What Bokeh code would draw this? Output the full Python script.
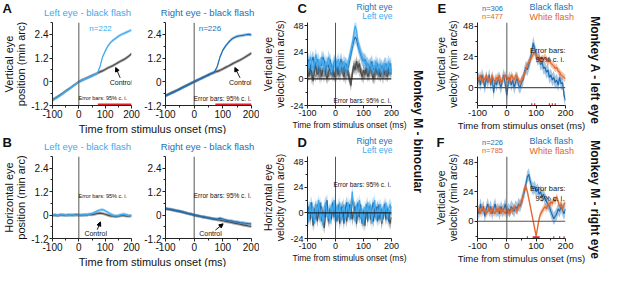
import math
from bokeh.plotting import figure
from bokeh.models import Range1d, FixedTicker, Label, Arrow, NormalHead, Span, CustomJSTickFormatter
from bokeh.layouts import row, column
from bokeh.embed import file_html
from bokeh.resources import INLINE

FONT = "Liberation Sans"
LIGHT = "#41aaee"
DARK = "#1d6fb5"
ORANGE = "#e3662b"
GRAY = "#4d4d4d"
GRAY2 = "#8c8c8c"
RED = "#e0202a"

# ---------------- data ----------------
t10 = list(range(-100, 201, 10))
t5 = list(range(-100, 201, 5))

# A: vertical eye position (min arc)
a_left_eye = [-0.95, -0.86, -0.78, -0.69, -0.59, -0.49, -0.40, -0.30, -0.20, -0.10, 0.0,
              0.06, 0.12, 0.18, 0.24, 0.30, 0.36, 0.42, 0.75, 1.25, 1.55, 1.80, 1.98, 2.10,
              2.20, 2.30, 2.38, 2.44, 2.50, 2.56, 2.62]
a_left_ctrl = [-0.90, -0.83, -0.75, -0.66, -0.57, -0.47, -0.38, -0.29, -0.19, -0.10, 0.0,
               0.07, 0.13, 0.19, 0.25, 0.31, 0.37, 0.43, 0.50, 0.55, 0.62, 0.70, 0.76, 0.82,
               0.90, 0.98, 1.05, 1.12, 1.20, 1.30, 1.42]
a_right_eye = [-0.72, -0.65, -0.58, -0.51, -0.44, -0.37, -0.29, -0.22, -0.15, -0.07, 0.0,
               0.07, 0.14, 0.21, 0.28, 0.35, 0.42, 0.48, 0.75, 1.25, 1.60, 1.82, 2.00, 2.15,
               2.24, 2.30, 2.33, 2.35, 2.38, 2.40, 2.37]
a_right_ctrl = [-0.70, -0.63, -0.56, -0.50, -0.43, -0.36, -0.28, -0.21, -0.14, -0.07, 0.0,
                0.07, 0.14, 0.21, 0.28, 0.35, 0.42, 0.48, 0.53, 0.58, 0.65, 0.73, 0.80, 0.88,
                0.96, 1.03, 1.10, 1.18, 1.27, 1.36, 1.45]
a_ci = 0.08
a_left_sig = [72, 200]
a_right_sig = [74, 200]

# B: horizontal eye position (min arc)
b_left_eye = [0.0, 0.02, -0.02, 0.01, 0.03, 0.0, -0.02, 0.02, 0.01, -0.01, 0.0,
              0.02, 0.0, 0.03, 0.05, 0.08, 0.14, 0.20, 0.26, 0.28, 0.22, 0.14, 0.06, 0.0,
              -0.04, -0.02, 0.02, 0.05, 0.02, -0.02, -0.04]
b_left_ctrl = [-0.02, 0.0, -0.03, 0.01, 0.0, -0.02, 0.01, -0.01, 0.0, 0.02, 0.0,
               -0.02, 0.01, 0.0, 0.03, 0.02, 0.05, 0.08, 0.10, 0.08, 0.04, 0.0, -0.04, -0.06,
               -0.08, -0.06, -0.03, -0.02, -0.05, -0.06, -0.03]
b_right_eye = [0.35, 0.31, 0.30, 0.26, 0.23, 0.20, 0.16, 0.12, 0.08, 0.05, 0.0,
               -0.03, -0.06, -0.09, -0.12, -0.14, -0.17, -0.19, -0.20, -0.16, -0.20, -0.25,
               -0.28, -0.30, -0.33, -0.35, -0.38, -0.40, -0.42, -0.44, -0.45]
b_right_ctrl = [0.32, 0.30, 0.27, 0.24, 0.21, 0.18, 0.15, 0.11, 0.07, 0.04, 0.0,
                -0.03, -0.06, -0.09, -0.12, -0.15, -0.18, -0.21, -0.24, -0.26, -0.29, -0.32,
                -0.35, -0.38, -0.41, -0.44, -0.47, -0.50, -0.53, -0.56, -0.58]
b_ci = 0.08

# C: vertical eye velocity, binocular (min arc/s)
c_left = [18, 10, 20, 14, 8, 16, 22, 12, 18, 10,
          20, 14, 8, 16, 12, 20, 14, 6, 12, 16,
          10, 14, 18, 8, 14, 10, 16, 12, 8, 14,
          20, 26, 32, 40, 48, 44, 34, 28, 24, 20,
          18, 14, 16, 10, 12, 14, 8, 12, 10, 16,
          8, 12, 14, 6, 10, 14, 8, 12, 16, 6, 14]
c_right = [12, 18, 8, 16, 20, 10, 14, 18, 8, 14,
           12, 20, 16, 8, 14, 10, 18, 12, 6, 14,
           18, 10, 8, 14, 18, 12, 8, 14, 12, 10,
           16, 22, 28, 34, 38, 36, 30, 26, 22, 18,
           16, 18, 12, 14, 10, 12, 16, 8, 12, 10,
           14, 6, 10, 12, 8, 12, 14, 6, 10, 14, 8]
c_ctrl1 = [8, 2, 10, 6, -2, 8, 12, 4, 6, 10,
           2, 8, 12, 4, 0, 6, 10, 4, 8, 2,
           6, 10, 4, 8, 12, 6, 2, 8, 10, 4,
           0, -6, 4, 12, 8, 16, 10, 14, 6, 2,
           8, 4, 10, 2, 6, 12, 4, 0, 6, 10,
           4, 8, 2, 6, 10, 4, 8, 2, 6, 10, 4]
c_ctrl2 = [4, 10, 6, 0, 8, 4, 2, 10, 6, 0,
           8, 4, 2, 10, 6, 2, 4, 10, 2, 6,
           0, 4, 10, 2, 6, 12, 6, 0, 4, 8,
           2, -2, 6, 10, 14, 8, 12, 6, 10, 4,
           0, 8, 4, 10, 2, 6, 10, 4, 0, 6,
           10, 2, 8, 4, 0, 8, 2, 6, 10, 4, 8]
c_ci = 6

# D: horizontal eye velocity, binocular (min arc/s)
d_left = [4, -8, 10, -4, 6, -10, 8, 0, 12, -6,
          4, -12, 6, 10, -4, 2, -10, 8, 0, 12,
          -6, 6, -2, 10, -8, 4, 8, -6, 2, 10,
          -4, 6, 20, 2, -8, 8, -2, 12, -6, 4,
          -12, 6, 0, 10, -4, 8, -10, 2, 12, -6,
          4, -2, 8, -8, 6, 0, 10, -6, 4, 8, -2]
d_right = [-4, 6, -2, 10, -8, 4, -6, 8, 0, 10,
           -8, 2, -4, 6, 12, -6, 4, -2, 10, -4,
           4, -8, 8, -4, 6, -2, -10, 4, 10, -4,
           8, -6, 14, 6, 4, -6, 10, 0, 8, -10,
           2, -4, 8, -8, 6, -2, 4, 10, -4, 6,
           -8, 8, -2, 4, -6, 8, -2, 4, -8, 2, 6]
d_ctrl = [-10, 2, -6, 4, -12, 0, 6, -8, 2, -4,
          6, -6, -14, 0, 4, -8, 2, -6, 4, -2,
          8, -4, 2, -10, 0, 6, -6, 2, -8, 4,
          -2, 8, -6, 0, 6, -10, 2, -4, 4, -8,
          0, -12, 2, -4, 6, -6, 0, -8, 4, -2,
          6, -6, 2, -10, 0, 4, -6, 2, -4, -10, -4]
d_ci = 6

# E: Monkey A, left eye, vertical velocity
e_black = [4, 8, 2, 10, 6, 0, 8, 4, 10, 2,
           8, -4, 6, 2, 8, 4, 0, 6, 10, 2,
           -6, 4, 8, 2, 6, 0, 4, 8, 2, 0,
           4, 6, 12, 16, 14, 18, 22, 28, 35, 30,
           26, 22, 24, 18, 20, 15, 16, 12, 14, 8,
           10, 6, 8, 4, 6, 2, 8, 3, 4, -6, -10]
e_white = [8, 6, 10, 4, 8, 6, 10, 5, 8, 4,
           10, 6, 4, 8, 6, 10, 4, 6, 8, 10,
           6, 8, 4, 10, 8, 6, 10, 8, 6, 4,
           6, 8, 10, 14, 18, 20, 22, 24, 26, 28,
           25, 22, 24, 21, 23, 22, 24, 22, 20, 22,
           19, 18, 17, 15, 16, 13, 12, 10, 9, 8, 7]
e_sig_start = [83, 93, 143, 153, 163]
e_sig_end = [87, 97, 147, 157, 167]

# F: Monkey M, right eye, vertical velocity
f_black = [10, 6, 14, 8, 12, 4, 10, 14, 8, 12,
           6, 10, 14, 8, 10, 6, 12, 8, 10, 14,
           6, 10, 8, 12, 10, 8, 12, 10, 14, 12,
           16, 20, 24, 30, 36, 38, 32, 28, 26, 28,
           24, 26, 22, 24, 20, 22, 18, 16, 14, 12,
           8, 5, 2, 4, 6, 10, 8, 12, 9, 6, 10]
f_white = [8, 10, 6, 12, 8, 10, 6, 8, 12, 6,
           10, 8, 6, 10, 8, 12, 6, 10, 8, 6,
           10, 8, 6, 10, 8, 12, 10, 8, 12, 14,
           14, 20, 27, 28, 24, 18, 12, 6, 0, -6,
           -12, -5, 2, 6, 8, 10, 12, 10, 14, 12,
           16, 14, 18, 16, 20, 16, 12, 14, 10, 14, 15]
f_sig_start = [68, 88, 158, 178, 193]
f_sig_end = [72, 112, 162, 182, 197]

black_ci = 5
white_ci = 3

pos_ticks, pos_minor = [-1.2, 0, 1.2, 2.4], [-0.6, 0.6, 1.8, 3.0]
vel_ticks, vel_minor = [-24, 0, 24, 48], [-12, 12, 36]
ef_ticks, ef_minor = [0, 24, 48], [-12, 12, 36]

XLABEL = "Time from stimulus onset (ms)"

# ---------------- helpers ----------------
FW = 88
HDR = 20


def X(px):
    return -100 + px * 300.0 / FW


def make_fig(w, h, bl, br, bt, bb, yr, yt, ym, ylabel=None, xlabel=None,
             tick_fs="9.5px", ylab_fs="11px", xlab_fs="10px"):
    p = figure(width=w, height=h, x_range=Range1d(-100, 200), y_range=Range1d(yr[0], yr[1]),
               output_backend="svg", toolbar_location=None,
               min_border_left=bl, min_border_right=br, min_border_top=bt, min_border_bottom=bb)
    p.outline_line_color = None
    p.xgrid.visible = False
    p.ygrid.visible = False
    p.background_fill_color = "white"
    p.border_fill_color = "white"
    xa, ya = p.xaxis[0], p.yaxis[0]
    xa.ticker = FixedTicker(ticks=[-100, 0, 100, 200], minor_ticks=[-50, 50, 150])
    ya.ticker = FixedTicker(ticks=yt, minor_ticks=ym)
    for ax in (xa, ya):
        ax.formatter = CustomJSTickFormatter(code="return String(tick);")
        ax.major_tick_out = 3
        ax.major_tick_in = 0
        ax.minor_tick_out = 2
        ax.minor_tick_in = 0
        ax.axis_line_color = "#222222"
        ax.major_tick_line_color = "#222222"
        ax.minor_tick_line_color = "#222222"
        ax.major_label_text_font = FONT
        ax.major_label_text_font_size = tick_fs
        ax.major_label_text_color = "#111111"
        ax.major_label_standoff = 1
        ax.axis_label_text_font = FONT
        ax.axis_label_text_font_style = "normal"
        ax.axis_label_text_color = "#111111"
        ax.axis_label_standoff = 1
        ax.axis_label_text_line_height = 1.0
    if ylabel:
        ya.axis_label = ylabel
        ya.axis_label_text_font_size = ylab_fs
    if xlabel:
        xa.axis_label = xlabel
        xa.axis_label_text_font_size = xlab_fs
    p.add_layout(Span(location=0, dimension="height", line_color="#555555", line_width=1))
    return p


def trace(p, t, m, ci, color, alpha, lw=1.2):
    lo = [v - ci for v in m]
    hi = [v + ci for v in m]
    p.varea(x=t, y1=lo, y2=hi, fill_color=color, fill_alpha=alpha)
    p.line(t, m, line_color=color, line_width=lw)


def lab(p, x, y, text, size, color="#111111", align="left", baseline="middle", style="normal"):
    p.add_layout(Label(x=x, y=y, text=text, text_font=FONT, text_font_size=size,
                       text_color=color, text_align=align, text_baseline=baseline,
                       text_font_style=style))


def arrow(p, x0, y0, x1, y1):
    p.add_layout(Arrow(end=NormalHead(size=4, fill_color="black", line_color="black", line_width=1),
                       x_start=x0, y_start=y0, x_end=x1, y_end=y1, line_color="black", line_width=0.9))


def sig(p, starts, ends, ybase):
    p.segment(x0=starts, y0=[ybase] * len(starts), x1=ends, y1=[ybase] * len(starts),
              line_color=RED, line_width=3)


def text_strip(w, h, items):
    """items: (x, y, text, size, color, align, baseline, style, angle) in pixel coords"""
    p = figure(width=w, height=h, x_range=Range1d(0, w), y_range=Range1d(0, h),
               x_axis_location=None, y_axis_location=None, output_backend="svg",
               toolbar_location=None, min_border=0)
    p.outline_line_color = None
    p.xgrid.visible = False
    p.ygrid.visible = False
    for (x, y, text, size, color, align, baseline, style, angle) in items:
        p.add_layout(Label(x=x, y=y, text=text, angle=angle, text_align=align,
                           text_baseline=baseline, text_font=FONT, text_font_size=size,
                           text_font_style=style, text_color=color))
    return row(p)   # wrapped so that no frame alignment with sibling plots happens


def T(x, y, text, size, color="#111111", align="left", baseline="middle", style="normal", angle=0):
    return (x, y, text, size, color, align, baseline, style, angle)


# ---------------- column A/B ----------------
YR_AB = (-1.2, 3.0)
AL_LEFT, AR_LEFT = 43, 141 + 22   # frame left edges inside column

hdrA = text_strip(259, HDR, [
    T(2, 19.5, "A", "13px", baseline="top", style="bold"),
    T(AL_LEFT + 44, 3, "Left eye - black flash", "9.5px", LIGHT, "center", "bottom"),
    T(AR_LEFT + 44, 3, "Right eye - black flash", "9.5px", DARK, "center", "bottom"),
])

AL = make_fig(141, 102, 43, 10, 2, 17, YR_AB, pos_ticks, pos_minor,
              ylabel="Vertical eye\nposition (min arc)", tick_fs="10px")
trace(AL, t10, a_left_ctrl, a_ci, GRAY, 0.45)
trace(AL, t10, a_left_eye, a_ci, LIGHT, 0.4)
sig(AL, [a_left_sig[0]], [a_left_sig[1]], YR_AB[0] + 0.03)
lab(AL, X(41), 2.68, "n=222", "8px", LIGHT)
lab(AL, 160, -0.02, "Control", "7px", align="center")
arrow(AL, 157, 0.2, 140, 0.72)
lab(AL, 91, -0.83, "Error bars: 95% c. i.", "5.5px", align="center")

AR = make_fig(118, 102, 22, 8, 2, 17, YR_AB, pos_ticks, pos_minor, tick_fs="10px")
trace(AR, t10, a_right_ctrl, a_ci, GRAY, 0.45)
trace(AR, t10, a_right_eye, a_ci, DARK, 0.4)
sig(AR, [a_right_sig[0]], [a_right_sig[1]], YR_AB[0] + 0.03)
lab(AR, X(34), 2.68, "n=226", "8px", DARK)
lab(AR, 161, -0.02, "Control", "7px", align="center")
arrow(AR, 160, 0.2, 142, 0.72)
lab(AR, 199, -0.83, "Error bars: 95% c. i.", "6.5px", align="right")

labA = text_strip(259, 12, [T(152, 6, XLABEL, "11px", align="center")])

hdrB = text_strip(259, HDR, [
    T(2, 19.5, "B", "13px", baseline="top", style="bold"),
    T(AL_LEFT + 44, 3, "Left eye - black flash", "9.5px", LIGHT, "center", "bottom"),
    T(AR_LEFT + 44, 3, "Right eye - black flash", "9.5px", DARK, "center", "bottom"),
])

BL = make_fig(141, 101, 43, 10, 2, 17, YR_AB, pos_ticks, pos_minor,
              ylabel="Horizontal eye\nposition (min arc)", tick_fs="10px")
trace(BL, t10, b_left_ctrl, b_ci, GRAY, 0.45)
trace(BL, t10, b_left_eye, b_ci, LIGHT, 0.4)
lab(BL, 91, 1.0, "Error bars: 95% c. i.", "5.5px", align="center")
lab(BL, 64, -0.95, "Control", "7px", align="center")
arrow(BL, 70, -0.75, 82, -0.35)

BR = make_fig(118, 101, 22, 8, 2, 17, YR_AB, pos_ticks, pos_minor, tick_fs="10px")
trace(BR, t10, b_right_ctrl, b_ci, GRAY, 0.45)
trace(BR, t10, b_right_eye, b_ci, DARK, 0.4)
lab(BR, 199, 1.0, "Error bars: 95% c. i.", "6.5px", align="right")
lab(BR, 57, -0.95, "Control", "7px", align="center")
arrow(BR, 74, -0.77, 101, -0.45)

labB = text_strip(259, 12, [T(152, 6, XLABEL, "11px", align="center")])

# ---------------- column C/D ----------------
YR_C = (-24, 51)
YR_D = (-24, 53)
CD_LEFT = 44

hdrC = text_strip(148, HDR, [
    T(CD_LEFT - 6, 19.5, "C", "13px", baseline="top", style="bold"),
    T(CD_LEFT + 89, 13.5, "Right eye", "8.5px", DARK, "right"),
    T(CD_LEFT + 89, 4.5, "Left eye", "8.5px", LIGHT, "right"),
])

C = make_fig(148, 114, CD_LEFT, 16, 2, 29, YR_C, vel_ticks, vel_minor,
             ylabel="Vertical eye\nvelocity (min arc/s)", xlabel=XLABEL,
             tick_fs="9px", ylab_fs="10.5px", xlab_fs="8.5px")
C.add_layout(Span(location=0, dimension="width", line_color="#222222", line_width=1.2))
trace(C, t5, c_ctrl2, 5, GRAY2, 0.45)
trace(C, t5, c_ctrl1, 5, GRAY, 0.45)
trace(C, t5, c_right, c_ci, DARK, 0.35)
trace(C, t5, c_left, c_ci, LIGHT, 0.4)
lab(C, 198, -19.5, "Error bars: 95% c. i.", "6.5px", align="right")

hdrD = text_strip(148, HDR, [
    T(CD_LEFT - 6, 19.5, "D", "13px", baseline="top", style="bold"),
    T(CD_LEFT + 89, 13.5, "Right eye", "8.5px", DARK, "right"),
    T(CD_LEFT + 89, 4.5, "Left eye", "8.5px", LIGHT, "right"),
])

D = make_fig(148, 113, CD_LEFT, 16, 2, 29, YR_D, vel_ticks, vel_minor,
             ylabel="Horizontal eye\nvelocity (min arc/s)", xlabel=XLABEL,
             tick_fs="9px", ylab_fs="10.5px", xlab_fs="8.5px")
D.add_layout(Span(location=0, dimension="width", line_color="#222222", line_width=1.2))
trace(D, t5, d_ctrl, 6, GRAY, 0.45)
trace(D, t5, d_right, d_ci, DARK, 0.35)
trace(D, t5, d_left, d_ci, LIGHT, 0.4)
lab(D, 198, 27, "Error bars: 95% c. i.", "6.5px", align="right")

# ---------------- column E/F ----------------
YR_E = (-14, 51)
YR_F = (-14, 52.5)
EF_LEFT = 50

hdrE = text_strip(160, HDR, [
    T(EF_LEFT - 40, 19.5, "E", "13px", baseline="top", style="bold"),
    T(EF_LEFT + 15, 12.5, "n=306", "7.5px", DARK, "center"),
    T(EF_LEFT + 15, 4, "n=477", "7.5px", ORANGE, "center"),
    T(EF_LEFT + 52, 13.5, "Black flash", "9px", DARK),
    T(EF_LEFT + 52, 4, "White flash", "9px", ORANGE),
])

E = make_fig(160, 114, EF_LEFT, 22, 2, 29, YR_E, ef_ticks, ef_minor,
             ylabel="Vertical eye\nvelocity (min arc/s)", xlabel=XLABEL,
             tick_fs="9.5px", ylab_fs="10.5px", xlab_fs="9.5px")
E.add_layout(Span(location=0, dimension="width", line_color="#555555", line_width=1.2))
trace(E, t5, e_black, black_ci, DARK, 0.4)
trace(E, t5, e_white, white_ci, ORANGE, 0.4)
sig(E, e_sig_start, e_sig_end, YR_E[0] + 0.6)
lab(E, 200, 29, "Error bars:", "7.5px", align="right")
lab(E, 196, 22, "95% c. i.", "7.5px", align="right")

hdrF = text_strip(160, HDR, [
    T(EF_LEFT - 41, 19.5, "F", "13px", baseline="top", style="bold"),
    T(EF_LEFT + 15, 12.5, "n=226", "7.5px", DARK, "center"),
    T(EF_LEFT + 15, 4, "n=785", "7.5px", ORANGE, "center"),
    T(EF_LEFT + 52, 13.5, "Black flash", "9px", DARK),
    T(EF_LEFT + 52, 4, "White flash", "9px", ORANGE),
])

F = make_fig(160, 113, EF_LEFT, 22, 2, 29, YR_F, ef_ticks, ef_minor,
             ylabel="Vertical eye\nvelocity (min arc/s)", xlabel=XLABEL,
             tick_fs="9.5px", ylab_fs="10.5px", xlab_fs="9.5px")
F.add_layout(Span(location=0, dimension="width", line_color="#555555", line_width=1.2))
trace(F, t5, f_black, black_ci, DARK, 0.4)
trace(F, t5, f_white, white_ci, ORANGE, 0.4)
sig(F, f_sig_start, f_sig_end, YR_F[0] + 0.6)
lab(F, 200, 26.4, "Error bars:", "7.5px", align="right")
lab(F, 196, 18.6, "95% c. i.", "7.5px", align="right")

# ---------------- side texts ----------------
V = -math.pi / 2
stripM = text_strip(20, 267, [T(10, 136, "Monkey M - binocular", "12px", align="center", style="bold", angle=V)])
stripR = text_strip(14, 267, [
    T(7, 197, "Monkey A - left eye", "12px", align="center", style="bold", angle=V),
    T(7, 68, "Monkey M - right eye", "12px", align="center", style="bold", angle=V),
])

colAB = column(hdrA, row(AL, AR), labA, hdrB, row(BL, BR), labB)
colCD = column(hdrC, row(C), hdrD, row(D))
colEF = column(hdrE, row(E), hdrF, row(F))
layout = row(colAB, colCD, stripM, colEF, stripR)

open("out.html", "w").write(file_html(layout, INLINE))
